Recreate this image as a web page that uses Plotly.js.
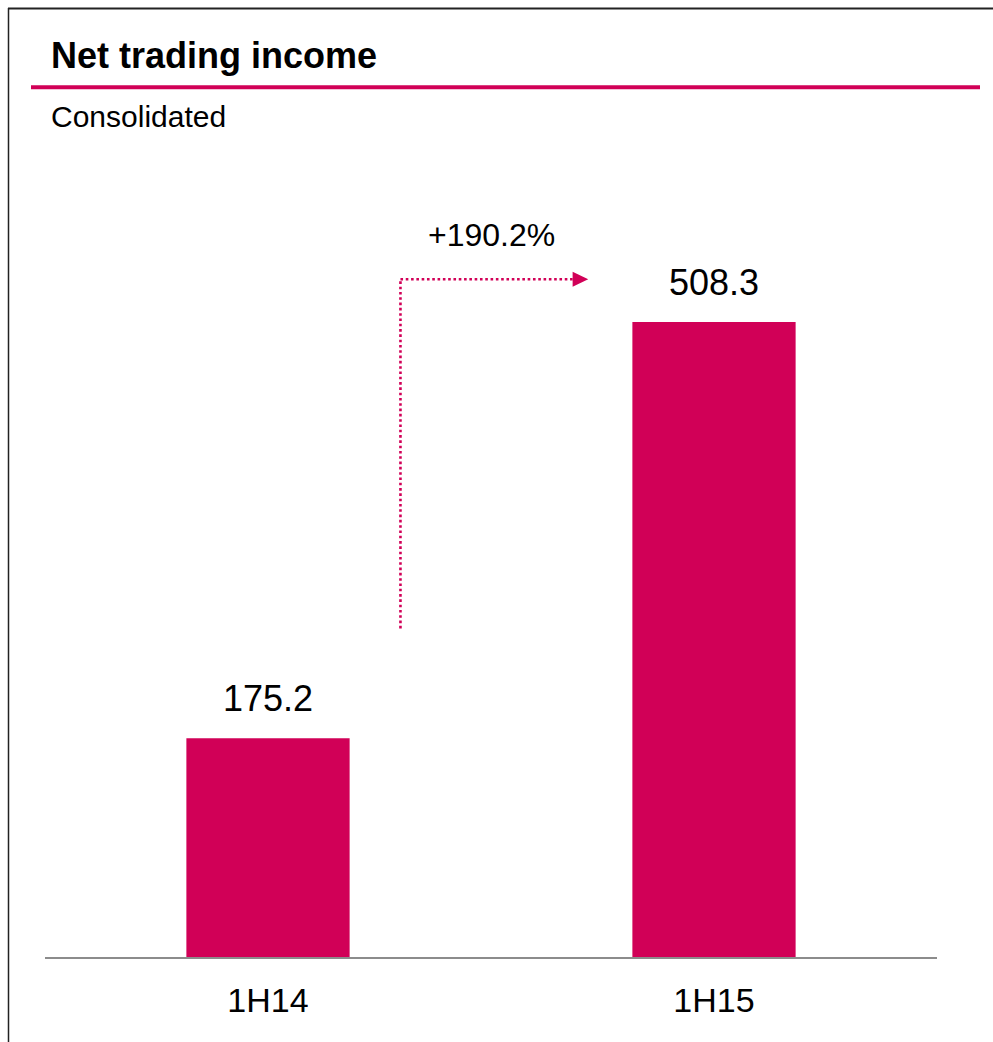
<!DOCTYPE html>
<html>
<head>
<meta charset="utf-8">
<script src="https://cdn.plot.ly/plotly-3.0.1.min.js"></script>
<style>
  html, body { margin: 0; padding: 0; background: #fff; }
  #chart { width: 993px; height: 1042px; }
</style>
</head>
<body>
<div id="chart"></div>
<script>
// ---- data ----
const categories = ["1H14", "1H15"];
const values = [175.2, 508.3];
const valueLabels = ["175.2", "508.3"];
const changeLabel = "+190.2%";
const chartTitle = "Net trading income";
const subTitle = "Consolidated";

// ---- layout geometry ----
const W = 993, H = 1042;
const M = { l: 45, r: 56, t: 150, b: 85 };
const PW = W - M.l - M.r, PH = H - M.t - M.b;
const px2x = p => (p - M.l) / PW;          // pixel -> paper x
const px2y = p => (H - M.b - p) / PH;       // pixel -> paper y

const PINK = "#D10057";
const FONT = "'Liberation Sans', Arial, sans-serif";

const yTop = 646;
// arrow geometry (category coordinates / data units)
const arrowX0 = 0.297, arrowX1 = 0.683;
const arrowYlow = 263, arrowYhigh = 542.5;

const trace = {
  type: "bar",
  x: categories,
  y: values,
  width: 0.366,
  marker: { color: PINK, line: { width: 0 } },
  hoverinfo: "x+y"
};

const annotations = [
  { xref: "paper", yref: "paper", x: px2x(49), y: px2y(56), xanchor: "left", yanchor: "middle",
    text: "<b>" + chartTitle + "</b>", showarrow: false, font: { family: FONT, size: 36, color: "#000" } },
  { xref: "paper", yref: "paper", x: px2x(49), y: px2y(117), xanchor: "left", yanchor: "middle",
    text: subTitle, showarrow: false, font: { family: FONT, size: 30, color: "#000" } },
  { xref: "x", yref: "y", x: 0.5, y: arrowYhigh, yshift: 44, xanchor: "center", yanchor: "middle",
    text: changeLabel, showarrow: false, font: { family: FONT, size: 32, color: "#000" } }
];
categories.forEach((c, i) => {
  annotations.push({
    xref: "x", yref: "y", x: c, y: values[i], yshift: 40, xanchor: "center", yanchor: "middle",
    text: valueLabels[i], showarrow: false, font: { family: FONT, size: 36, color: "#000" }
  });
});

const shapes = [
  // frame (top & left)
  { type: "line", xref: "paper", yref: "paper", x0: px2x(8), x1: px2x(W + 5), y0: px2y(8.5), y1: px2y(8.5),
    line: { color: "#222", width: 2 } },
  { type: "line", xref: "paper", yref: "paper", x0: px2x(8.5), x1: px2x(8.5), y0: px2y(8), y1: px2y(H + 5),
    line: { color: "#222", width: 1.5 } },
  // title rule
  { type: "line", xref: "paper", yref: "paper", x0: px2x(31), x1: px2x(980), y0: px2y(87.3), y1: px2y(87.3),
    line: { color: PINK, width: 4 } },
  // dotted arrow
  { type: "line", xref: "x", yref: "y", x0: arrowX0, x1: arrowX0, y0: arrowYlow, y1: arrowYhigh,
    line: { color: PINK, width: 2.6, dash: "2.6px,2.7px" } },
  { type: "line", xref: "x", yref: "y", x0: arrowX0, x1: arrowX1, y0: arrowYhigh, y1: arrowYhigh,
    line: { color: PINK, width: 2.6, dash: "2.6px,2.7px" } },
  { type: "path", xref: "x", yref: "y", xsizemode: "pixel", ysizemode: "pixel",
    xanchor: arrowX1, yanchor: arrowYhigh, path: "M0,-7.5 L15.6,0 L0,7.5 Z",
    fillcolor: PINK, line: { width: 0 } }
];

const layout = {
  width: W, height: H,
  margin: M,
  paper_bgcolor: "#fff", plot_bgcolor: "#fff",
  showlegend: false,
  font: { family: FONT, color: "#000" },
  xaxis: {
    type: "category",
    range: [-0.5, 1.5],
    showgrid: false, zeroline: false,
    showline: true, linecolor: "#8c8c8c", linewidth: 2,
    ticks: "", ticklabelstandoff: 12,
    tickfont: { family: FONT, size: 34, color: "#000" },
    fixedrange: true
  },
  yaxis: {
    range: [0, yTop],
    visible: false,
    showgrid: false, zeroline: false,
    fixedrange: true
  },
  annotations: annotations,
  shapes: shapes
};

Plotly.newPlot("chart", [trace], layout, { displayModeBar: false, staticPlot: true });
</script>
</body>
</html>
